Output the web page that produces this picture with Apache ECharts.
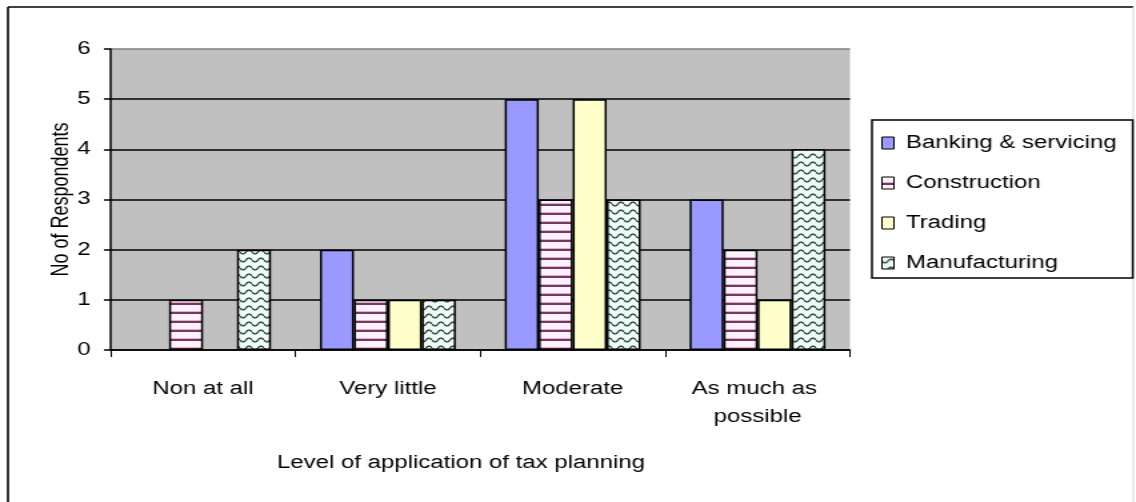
<!DOCTYPE html>
<html>
<head>
<meta charset="utf-8">
<script src="https://cdn.jsdelivr.net/npm/echarts@6/dist/echarts.min.js"></script>
<style>
  html, body { margin: 0; padding: 0; background: #fff; overflow: hidden; }
  /* the drawing is laid out 852px wide and widened to fill the 1136px page */
  #chart { width: 852px; height: 502px; transform: scaleX(1.33333); transform-origin: 0 0; }
</style>
</head>
<body>
<div id="chart"></div>
<script>
// Number of respondents per sector at each level of tax-planning use
const categories = ['Non at all', 'Very little', 'Moderate', 'As much as possible'];
const banking = [0, 2, 5, 3];
const construction = [1, 1, 3, 2];
const trading = [0, 1, 5, 1];
const manufacturing = [2, 1, 3, 4];
const yTicks = [0, 1, 2, 3, 4, 5, 6];

const FONT = 'Arial, "Liberation Sans", sans-serif';

// Horizontal-stripe fill
function stripePattern() {
  const c = document.createElement('canvas');
  c.width = 8; c.height = 9;
  const g = c.getContext('2d');
  g.fillStyle = '#fff0ff';
  g.fillRect(0, 0, 8, 9);
  g.fillStyle = '#dcb0cc';
  g.fillRect(0, 5, 8, 1);
  g.fillStyle = '#74395a';
  g.fillRect(0, 6, 8, 2);
  return c;
}

// Wavy-line fill
function wavePattern() {
  const c = document.createElement('canvas');
  c.width = 9; c.height = 8;
  const g = c.getContext('2d');
  g.fillStyle = '#eafcf6';
  g.fillRect(0, 0, 9, 8);
  g.strokeStyle = '#2e2e2e';
  g.lineWidth = 1.2;
  g.beginPath();
  for (let x = 0; x <= 9; x += 0.5) {
    const y = 4 + 2 * Math.sin((x / 9) * Math.PI * 2);
    if (x === 0) g.moveTo(x, y); else g.lineTo(x, y);
  }
  g.stroke();
  return c;
}

function asBars(values) {
  return values.map(v => v === 0 ? { value: v, itemStyle: { borderWidth: 0 } } : v);
}

const chart = echarts.init(document.getElementById('chart'), null, { renderer: 'canvas' });

const barBase = {
  type: 'bar',
  barGap: '0%',
  barCategoryGap: '26.5%',
  itemStyle: { borderColor: '#000', borderWidth: 1.5 },
  emphasis: { disabled: true }
};

chart.setOption({
  animation: false,
  grid: {
    left: 83, right: 214.5, top: 49, bottom: 152,
    show: true, backgroundColor: '#c0c0c0', borderWidth: 0
  },
  legend: {
    orient: 'vertical',
    left: 654, top: 120,
    padding: [13, 12, 5, 7],
    itemGap: 20,
    itemWidth: 9, itemHeight: 12,
    icon: 'rect',
    backgroundColor: '#fff',
    borderColor: '#000', borderWidth: 1.5,
    itemStyle: { borderColor: '#000', borderWidth: 1 },
    textStyle: { fontFamily: FONT, fontSize: 18, color: '#000', lineHeight: 20, padding: [0, 0, 0, 4] },
    selectedMode: false,
    data: ['Banking & servicing', 'Construction', 'Trading', 'Manufacturing']
  },
  xAxis: {
    type: 'category',
    data: categories,
    axisLine: { lineStyle: { color: '#000', width: 1.5 } },
    axisTick: { show: true, length: 7, lineStyle: { color: '#000', width: 1 } },
    axisLabel: {
      fontFamily: FONT, fontSize: 18, color: '#000',
      margin: 25, lineHeight: 28, width: 110, overflow: 'break', interval: 0
    }
  },
  yAxis: {
    type: 'value',
    min: yTicks[0], max: yTicks[yTicks.length - 1], interval: 1,
    name: 'No of Respondents',
    nameLocation: 'middle',
    nameGap: 28,
    nameMoveOverlap: false,
    nameTextStyle: { fontFamily: FONT, fontSize: 18, color: '#000' },
    axisLine: { show: true, lineStyle: { color: '#000', width: 1.5 } },
    axisTick: { show: true, length: 5, lineStyle: { color: '#000', width: 1.5 } },
    axisLabel: { fontFamily: FONT, fontSize: 18, color: '#000', margin: 15 },
    splitLine: {
      show: true,
      lineStyle: { color: ['#000', '#000', '#000', '#000', '#000', '#000', '#808080'], width: 1.5 }
    }
  },
  graphic: [
    { type: 'line', shape: { x1: 6, y1: 7, x2: 850, y2: 7 }, style: { stroke: '#000', lineWidth: 1.6 }, silent: true },
    { type: 'line', shape: { x1: 6, y1: 7, x2: 6, y2: 502 }, style: { stroke: '#000', lineWidth: 1.6 }, silent: true },
    { type: 'line', shape: { x1: 850, y1: 7, x2: 850, y2: 502 }, style: { stroke: '#d8d8d8', lineWidth: 1 }, silent: true },
    {
      type: 'text', x: 345.75, y: 463,
      style: {
        text: 'Level of application of tax planning',
        align: 'center', verticalAlign: 'middle',
        font: '18px ' + FONT, fill: '#000'
      },
      silent: true
    }
  ],
  series: [
    Object.assign({}, barBase, { name: 'Banking & servicing', data: asBars(banking), itemStyle: Object.assign({}, barBase.itemStyle, { color: '#9999ff' }) }),
    Object.assign({}, barBase, { name: 'Construction', data: asBars(construction), itemStyle: Object.assign({}, barBase.itemStyle, { color: { image: stripePattern(), repeat: 'repeat' } }) }),
    Object.assign({}, barBase, { name: 'Trading', data: asBars(trading), itemStyle: Object.assign({}, barBase.itemStyle, { color: '#ffffcc' }) }),
    Object.assign({}, barBase, { name: 'Manufacturing', data: asBars(manufacturing), itemStyle: Object.assign({}, barBase.itemStyle, { color: { image: wavePattern(), repeat: 'repeat' } }) })
  ]
});
</script>
</body>
</html>
